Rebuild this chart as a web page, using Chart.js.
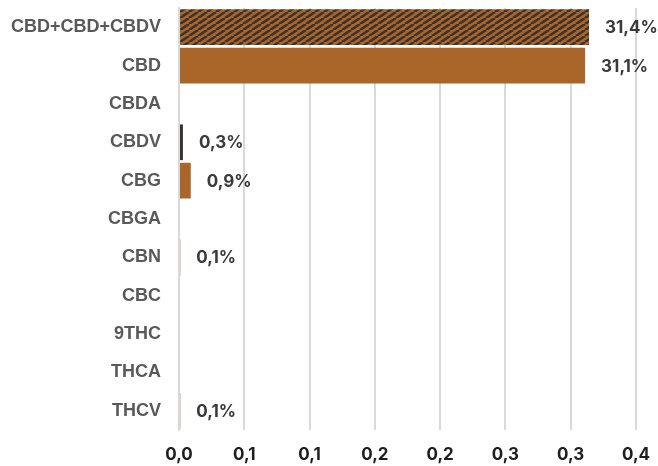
<!DOCTYPE html>
<html>
<head>
<meta charset="utf-8">
<script src="https://cdn.jsdelivr.net/npm/chart.js@4"></script>
<style>
  html, body { margin: 0; padding: 0; background: #fff; }
  #wrap { width: 658px; height: 466px; }
</style>
</head>
<body>
<div id="wrap"><canvas id="myChart" width="658" height="466"></canvas></div>
<script>
// chart data
var categories = ['CBD+CBD+CBDV', 'CBD', 'CBDA', 'CBDV', 'CBG', 'CBGA', 'CBN', 'CBC', '9THC', 'THCA', 'THCV'];
var shares = [0.314, 0.311, null, 0.003, 0.009, null, 0.001, null, null, null, 0.001];
var xTicks = [0, 0.05, 0.1, 0.15, 0.2, 0.25, 0.3, 0.35];

var brown = '#A96628';
var dark = '#3b3232';

// striped fill for the total bar
function makeStripes() {
  var c = document.createElement('canvas');
  c.width = 9; c.height = 6;
  var g = c.getContext('2d');
  g.fillStyle = brown;
  g.fillRect(0, 0, 9, 6);
  g.strokeStyle = dark;
  g.lineWidth = 2.6;
  g.beginPath();
  g.moveTo(0, 6); g.lineTo(9, 0);
  g.moveTo(-9, 6); g.lineTo(0, 0);
  g.moveTo(9, 6); g.lineTo(18, 0);
  g.stroke();
  return g.createPattern(c, 'repeat');
}

var barColors = categories.map(function(c, i) {
  if (i === 0) return makeStripes();
  if (c === 'CBDV') return dark;
  return brown;
});

// value labels at the end of the bars
var valueLabels = {
  id: 'valueLabels',
  afterDatasetsDraw: function(chart) {
    var ctx = chart.ctx;
    var meta = chart.getDatasetMeta(0);
    ctx.save();
    ctx.font = 'bold 17px Inter';
    ctx.fillStyle = '#3a3a3a';
    ctx.textAlign = 'left';
    ctx.textBaseline = 'middle';
    meta.data.forEach(function(bar, i) {
      var v = shares[i];
      if (v === null) return;
      var txt = (v * 100).toFixed(1).replace('.', ',') + '%';
      ctx.fillText(txt, bar.x + 16, bar.y + 1);
    });
    ctx.restore();
  }
};

var ctx = document.getElementById('myChart');
var myChart = new Chart(ctx, {
  type: 'bar',
  data: {
    labels: categories,
    datasets: [{
      data: shares,
      backgroundColor: barColors,
      borderWidth: 0,
      barPercentage: 0.96,
      categoryPercentage: 0.97
    }]
  },
  options: {
    indexAxis: 'y',
    responsive: false,
    animation: false,
    layout: { padding: { top: 8, right: 22, left: 11, bottom: 0 } },
    plugins: {
      legend: { display: false },
      tooltip: { enabled: false }
    },
    scales: {
      x: {
        min: 0,
        max: 0.35,
        afterBuildTicks: function(axis) {
          axis.ticks = xTicks.map(function(v) { return { value: v }; });
        },
        afterFit: function(scale) {
          scale.paddingLeft = 0;
          scale.paddingRight = 0;
          scale.height = 36;
        },
        grid: { color: '#d9d9d9', lineWidth: 2, drawTicks: false },
        border: { display: false },
        ticks: {
          padding: 15,
          color: '#1e1e1e',
          font: { family: 'Inter', size: 17, weight: 'bold' },
          callback: function(v) {
            return (Math.round(v * 10 + 1e-9) / 10).toFixed(1).replace('.', ',');
          }
        }
      },
      y: {
        afterFit: function(scale) {
          scale.paddingTop = 0;
          scale.paddingBottom = 0;
          scale.width -= 18;
        },
        grid: { display: false, drawTicks: false },
        border: { display: true, color: '#d9d9d9', width: 2, z: 1 },
        ticks: {
          padding: 18,
          color: '#595959',
          font: { family: 'Liberation Sans', size: 18, weight: 'bold' }
        }
      }
    }
  },
  plugins: [valueLabels]
});
</script>
</body>
</html>
